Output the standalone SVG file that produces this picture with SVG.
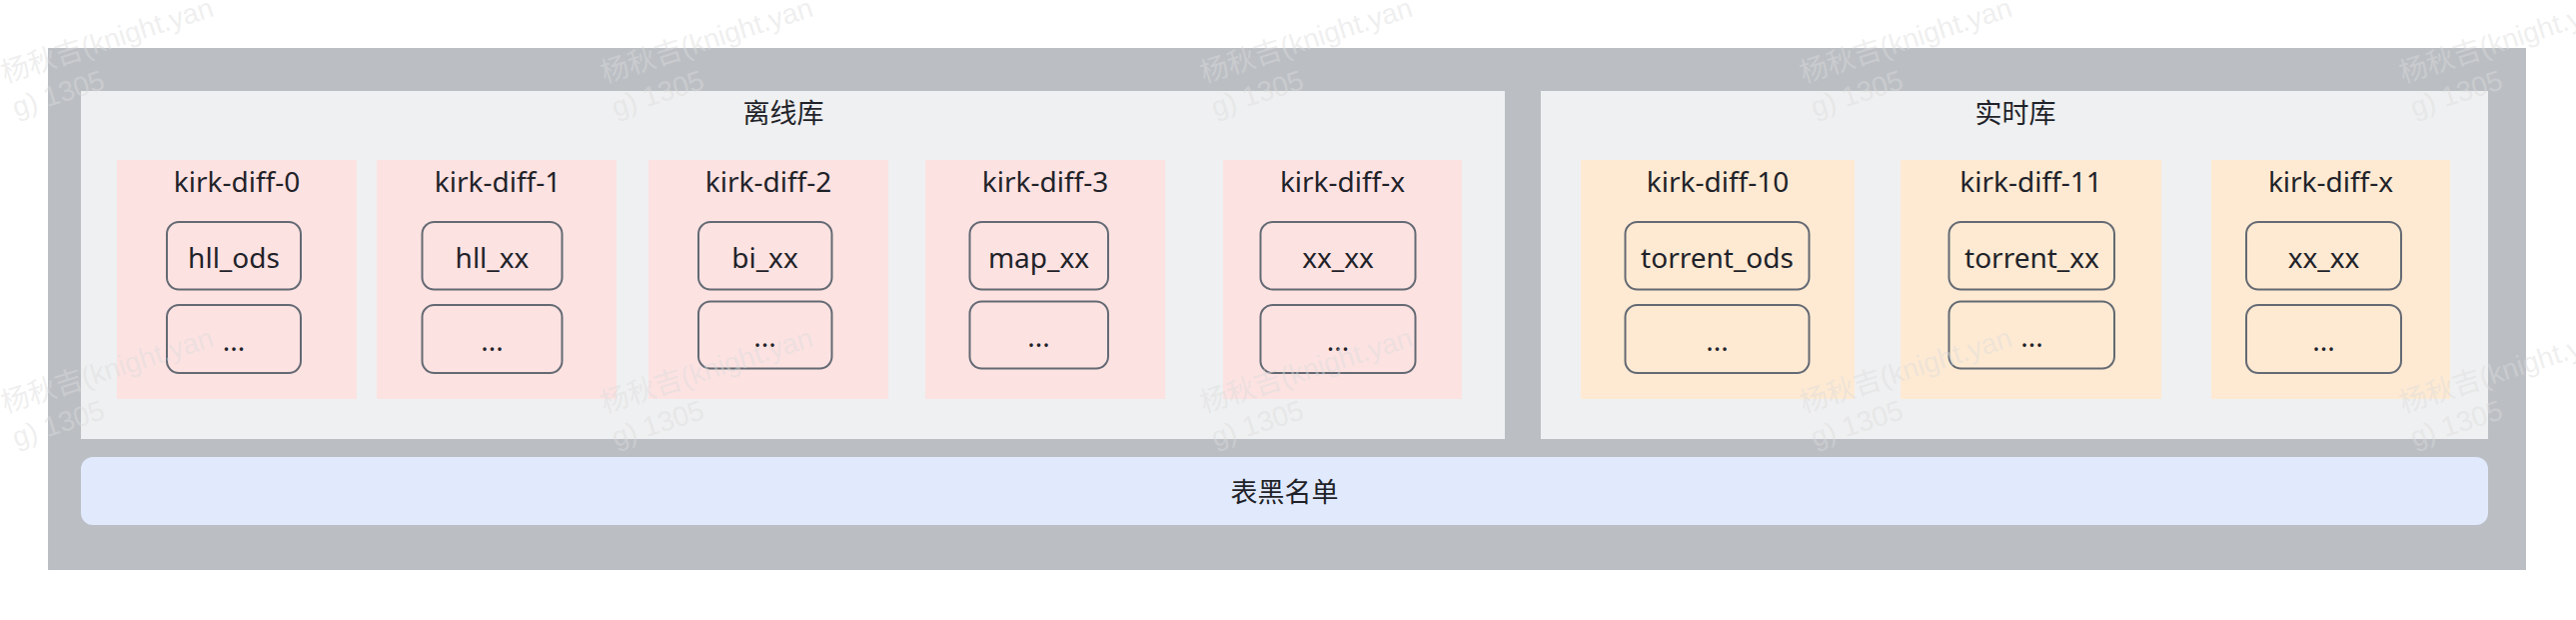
<svg xmlns="http://www.w3.org/2000/svg" width="2578" height="620" viewBox="0 0 2578 620">
<style>
text{font-family:"Noto Sans","Noto Sans CJK SC",sans-serif;fill:#1f2329;text-anchor:middle}
.t{font-size:28px}
.h{font-size:27px}
.pink{fill:#fde2e2}
.peach{fill:#feead3}
.tbl{fill:none;stroke:#646a73;stroke-width:2}
.wm{font-family:"Liberation Sans","Noto Sans CJK SC",sans-serif;font-size:28px;fill:#dcdcdc;fill-opacity:0.45;text-anchor:start}
</style>
<rect width="2578" height="620" fill="#ffffff"/>
<g id="frame">
<rect x="48" y="48" width="2480" height="522" fill="#bbbfc4"/>
</g>
<g id="offline">
<rect x="81" y="91" width="1425" height="348" fill="#eff0f1"/>
<text class="h" x="784" y="123">离线库</text>
</g>
<g id="realtime">
<rect x="1542" y="91" width="948" height="348" fill="#eff0f1"/>
<text class="h" x="2017" y="123">实时库</text>
</g>
<g id="blacklist">
<rect x="81" y="457" width="2409" height="68" rx="12" fill="#e1eafd"/>
<text class="h" x="1285.5" y="502">表黑名单</text>
</g>
<g id="kirk-diff-0">
<rect class="pink" x="117" y="160" width="240" height="239"/>
<text class="t" x="237" y="192">kirk-diff-0</text>
<rect class="tbl" x="167" y="222" width="134" height="67.5" rx="12"/>
<text class="t" x="234" y="268">hll_ods</text>
<rect class="tbl" x="167" y="305" width="134" height="68" rx="12"/>
<text class="t" x="234" y="351">...</text>
</g>
<g id="kirk-diff-1">
<rect class="pink" x="377" y="160" width="240" height="239"/>
<text class="t" x="498" y="192">kirk-diff-1</text>
<rect class="tbl" x="422.5" y="222" width="140" height="67.5" rx="12"/>
<text class="t" x="492.5" y="268">hll_xx</text>
<rect class="tbl" x="422.5" y="305" width="140" height="68" rx="12"/>
<text class="t" x="492.5" y="351">...</text>
</g>
<g id="kirk-diff-2">
<rect class="pink" x="649" y="160" width="240" height="239"/>
<text class="t" x="769" y="192">kirk-diff-2</text>
<rect class="tbl" x="699" y="222" width="133.5" height="67.5" rx="12"/>
<text class="t" x="765.5" y="268">bi_xx</text>
<rect class="tbl" x="699" y="301.5" width="133.5" height="67" rx="12"/>
<text class="t" x="765.5" y="347">...</text>
</g>
<g id="kirk-diff-3">
<rect class="pink" x="926" y="160" width="240" height="239"/>
<text class="t" x="1046" y="192">kirk-diff-3</text>
<rect class="tbl" x="970.5" y="222" width="138.5" height="67.5" rx="12"/>
<text class="t" x="1039.5" y="268">map_xx</text>
<rect class="tbl" x="970.5" y="301.5" width="138.5" height="67" rx="12"/>
<text class="t" x="1039.5" y="347">...</text>
</g>
<g id="kirk-diff-x-offline">
<rect class="pink" x="1224" y="160" width="239" height="239"/>
<text class="t" x="1343.5" y="192">kirk-diff-x</text>
<rect class="tbl" x="1261.5" y="222" width="155" height="67.5" rx="12"/>
<text class="t" x="1339" y="268">xx_xx</text>
<rect class="tbl" x="1261.5" y="305" width="155" height="68" rx="12"/>
<text class="t" x="1339" y="351">...</text>
</g>
<g id="kirk-diff-10">
<rect class="peach" x="1582" y="160" width="274" height="239"/>
<text class="t" x="1719" y="192">kirk-diff-10</text>
<rect class="tbl" x="1626.5" y="222" width="184" height="67.5" rx="12"/>
<text class="t" x="1718.5" y="268">torrent_ods</text>
<rect class="tbl" x="1626.5" y="305" width="184" height="68" rx="12"/>
<text class="t" x="1718.5" y="351">...</text>
</g>
<g id="kirk-diff-11">
<rect class="peach" x="1902" y="160" width="261" height="239"/>
<text class="t" x="2032.5" y="192">kirk-diff-11</text>
<rect class="tbl" x="1950.5" y="222" width="165.5" height="67.5" rx="12"/>
<text class="t" x="2033.5" y="268">torrent_xx</text>
<rect class="tbl" x="1950.5" y="301.5" width="165.5" height="67" rx="12"/>
<text class="t" x="2033.5" y="347">...</text>
</g>
<g id="kirk-diff-x-realtime">
<rect class="peach" x="2213" y="160" width="239" height="239"/>
<text class="t" x="2332.5" y="192">kirk-diff-x</text>
<rect class="tbl" x="2248" y="222" width="155" height="67.5" rx="12"/>
<text class="t" x="2325.5" y="268">xx_xx</text>
<rect class="tbl" x="2248" y="305" width="155" height="68" rx="12"/>
<text class="t" x="2325.5" y="351">...</text>
</g>
<g id="connectors"></g>
<g id="watermarks">
<text class="wm" transform="translate(5,83) rotate(-17.75)">杨秋吉(knight.yan<tspan x="0" dy="36">g) 1305</tspan></text>
<text class="wm" transform="translate(605,83) rotate(-17.75)">杨秋吉(knight.yan<tspan x="0" dy="36">g) 1305</tspan></text>
<text class="wm" transform="translate(1205,83) rotate(-17.75)">杨秋吉(knight.yan<tspan x="0" dy="36">g) 1305</tspan></text>
<text class="wm" transform="translate(1805,83) rotate(-17.75)">杨秋吉(knight.yan<tspan x="0" dy="36">g) 1305</tspan></text>
<text class="wm" transform="translate(2405,83) rotate(-17.75)">杨秋吉(knight.yan<tspan x="0" dy="36">g) 1305</tspan></text>
<text class="wm" transform="translate(5,413) rotate(-17.75)">杨秋吉(knight.yan<tspan x="0" dy="36">g) 1305</tspan></text>
<text class="wm" transform="translate(605,413) rotate(-17.75)">杨秋吉(knight.yan<tspan x="0" dy="36">g) 1305</tspan></text>
<text class="wm" transform="translate(1205,413) rotate(-17.75)">杨秋吉(knight.yan<tspan x="0" dy="36">g) 1305</tspan></text>
<text class="wm" transform="translate(1805,413) rotate(-17.75)">杨秋吉(knight.yan<tspan x="0" dy="36">g) 1305</tspan></text>
<text class="wm" transform="translate(2405,413) rotate(-17.75)">杨秋吉(knight.yan<tspan x="0" dy="36">g) 1305</tspan></text>
</g>
</svg>
